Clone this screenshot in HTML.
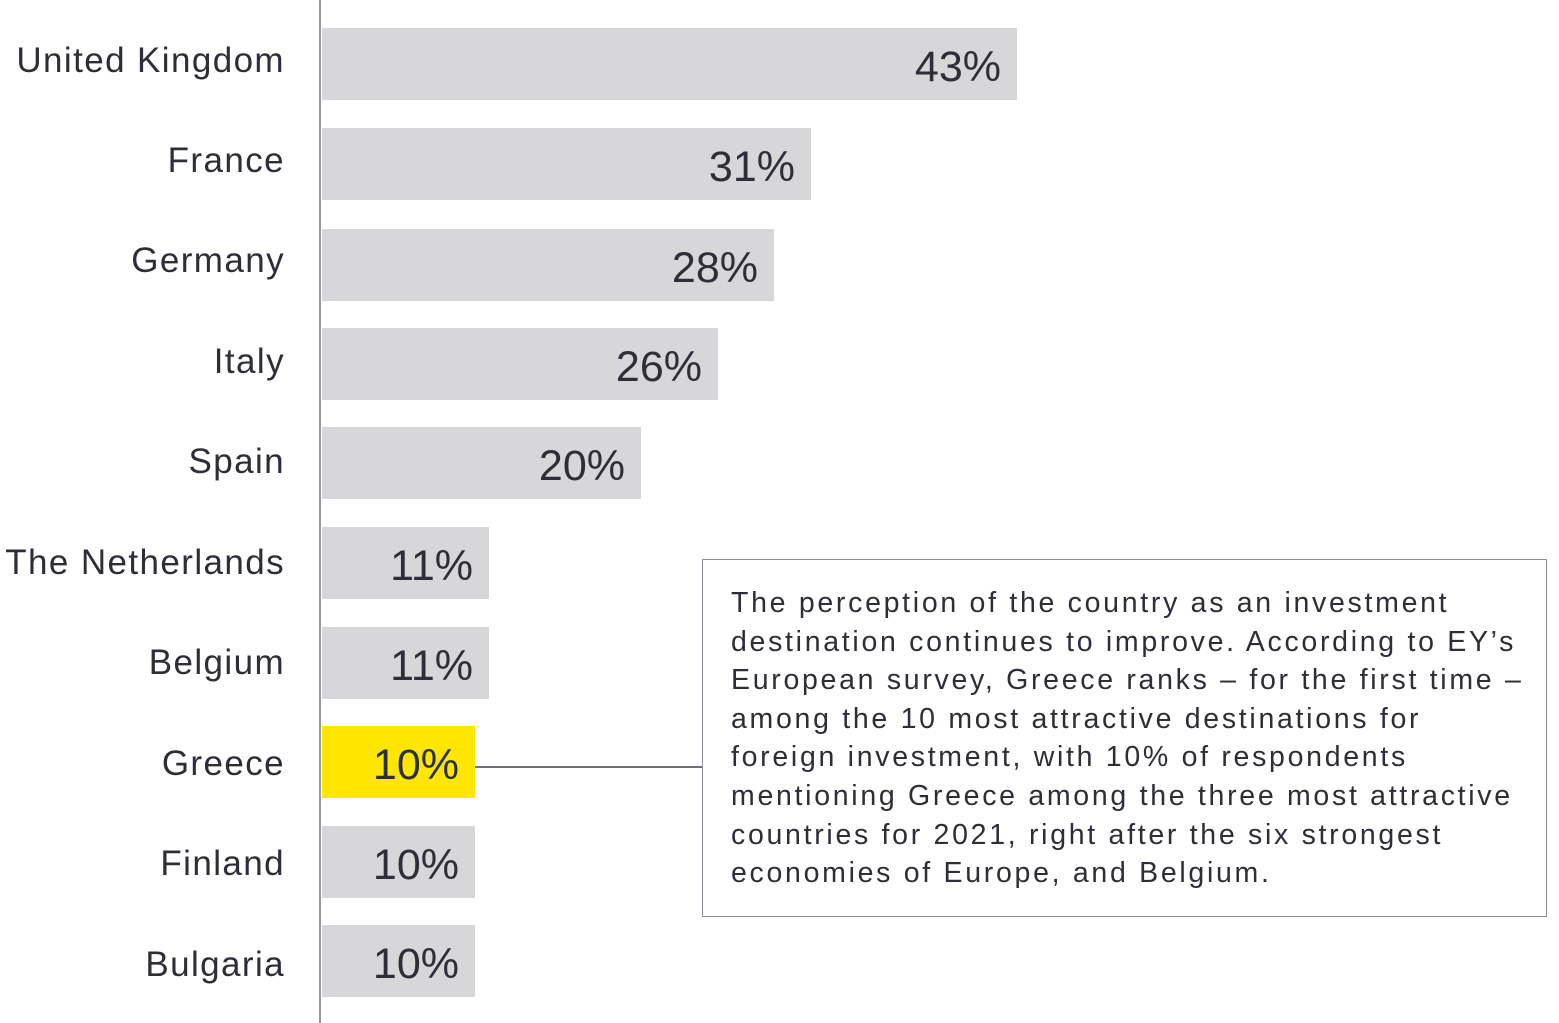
<!DOCTYPE html>
<html><head><style>
body{margin:0;width:1559px;height:1023px;background:#fff;position:relative;overflow:hidden;font-family:"Liberation Sans",sans-serif;color:#2e2e38}
.lbl{position:absolute;right:1274px;font-size:35px;line-height:40px;white-space:nowrap;letter-spacing:1.4px}
.bar{position:absolute;left:322px;background:#d7d7d9;height:72px}
.val{position:absolute;font-size:43px;line-height:50px;top:14px;right:16px}
.box{position:absolute;left:702px;top:559px;width:843px;height:356px;border:1.5px solid #8f8f99;box-sizing:content-box}
.box p{margin:0;position:absolute;left:28px;top:24px;font-size:28.5px;line-height:38.6px;letter-spacing:2.7px;white-space:nowrap}
</style></head><body>
<div style="position:absolute;left:319px;top:0;width:2px;height:1023px;background:#9a9aa2"></div>
<div class="lbl" style="top:41px">United Kingdom</div>
<div class="lbl" style="top:141px">France</div>
<div class="lbl" style="top:241px">Germany</div>
<div class="lbl" style="top:342px">Italy</div>
<div class="lbl" style="top:442px">Spain</div>
<div class="lbl" style="top:543px">The Netherlands</div>
<div class="lbl" style="top:643px">Belgium</div>
<div class="lbl" style="top:744px">Greece</div>
<div class="lbl" style="top:844px">Finland</div>
<div class="lbl" style="top:945px">Bulgaria</div>
<div class="bar" style="top:28px;width:695px"><span class="val">43%</span></div>
<div class="bar" style="top:128px;width:489px"><span class="val">31%</span></div>
<div class="bar" style="top:229px;width:452px"><span class="val">28%</span></div>
<div class="bar" style="top:328px;width:396px"><span class="val">26%</span></div>
<div class="bar" style="top:427px;width:319px"><span class="val">20%</span></div>
<div class="bar" style="top:527px;width:167px"><span class="val">11%</span></div>
<div class="bar" style="top:627px;width:167px"><span class="val">11%</span></div>
<div class="bar" style="top:726px;width:153px;background:#ffe600"><span class="val">10%</span></div>
<div class="bar" style="top:826px;width:153px"><span class="val">10%</span></div>
<div class="bar" style="top:925px;width:153px"><span class="val">10%</span></div>
<div style="position:absolute;left:475px;top:766px;width:228px;height:1.5px;background:#6f6f79"></div>
<div class="box"><p>The perception of the country as an investment<br>destination continues to improve. According to EY’s<br>European survey, Greece ranks – for the first time –<br>among the 10 most attractive destinations for<br>foreign investment, with 10% of respondents<br>mentioning Greece among the three most attractive<br>countries for 2021, right after the six strongest<br>economies of Europe, and Belgium.</p></div>
</body></html>
